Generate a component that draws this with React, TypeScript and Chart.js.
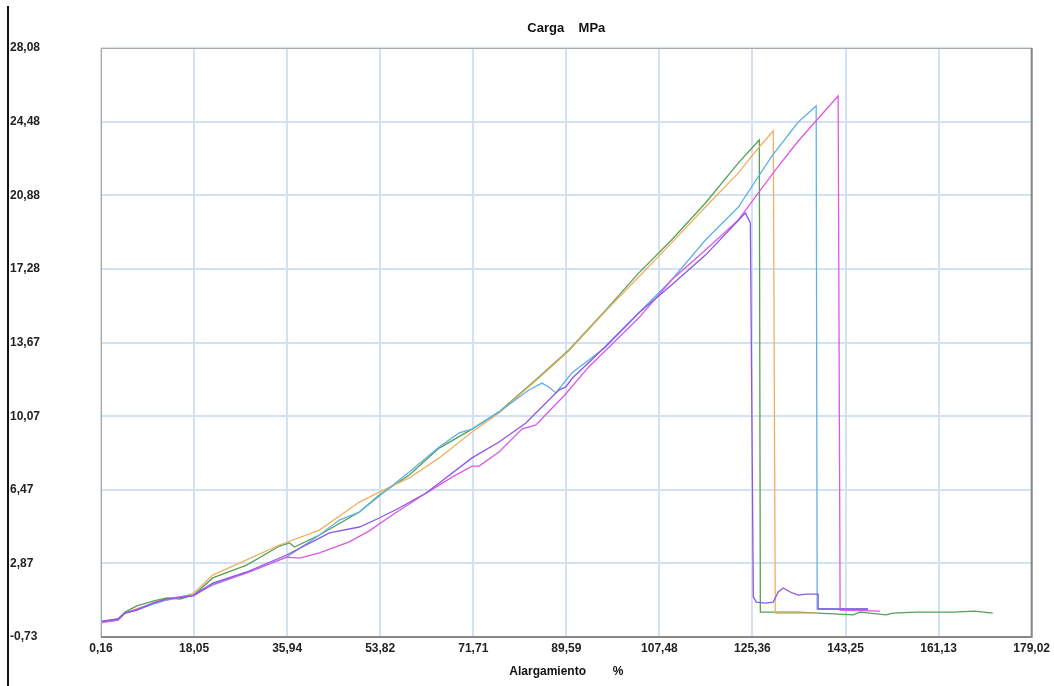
import React, { useEffect, useRef } from "react";
import { Chart, registerables } from "chart.js";

Chart.register(...registerables);

const chartTitle = "Carga    MPa";
const xAxisTitle = "Alargamiento        %";

const xTickValues = [0.16, 18.05, 35.94, 53.82, 71.71, 89.59, 107.48, 125.36, 143.25, 161.13, 179.02];
const xTickLabels = ["0,16", "18,05", "35,94", "53,82", "71,71", "89,59", "107,48", "125,36", "143,25", "161,13", "179,02"];
const yTickValues = [-0.73, 2.87, 6.47, 10.07, 13.67, 17.28, 20.88, 24.48, 28.08];
const yTickLabels = ["-0,73", "2,87", "6,47", "10,07", "13,67", "17,28", "20,88", "24,48", "28,08"];

// [alargamiento %, carga MPa]
const greenPts: [number, number][] = [
  [0.16, 0.0], [3.42, 0.15], [4.76, 0.49], [7.06, 0.79], [10.13, 1.03], [12.81, 1.18], [15.3, 1.13],
  [17.99, 1.32], [21.63, 2.16], [28.15, 2.79], [34.47, 3.72], [36.39, 3.87], [37.35, 3.67], [42.14, 4.26],
  [49.81, 5.38], [53.64, 6.22], [59.4, 7.19], [65.15, 8.51], [71.47, 9.44], [76.65, 10.28], [84.32, 11.99],
  [90.07, 13.31], [97.16, 15.26], [103.49, 17.07], [109.81, 18.69], [116.33, 20.5], [122.66, 22.46],
  [126.68, 23.58], [126.88, 0.49], [134.16, 0.49], [144.7, 0.35], [146.04, 0.49], [151.03, 0.35],
  [152.37, 0.44], [156.78, 0.49], [163.87, 0.49], [168.09, 0.54], [171.54, 0.44],
];

const orangePts: [number, number][] = [
  [0.16, -0.05], [3.42, 0.1], [4.76, 0.44], [7.06, 0.64], [10.13, 0.88], [12.81, 1.08], [15.3, 1.18],
  [17.99, 1.42], [21.63, 2.3], [28.15, 3.04], [34.47, 3.77], [42.14, 4.5], [49.81, 5.87], [53.64, 6.36],
  [59.4, 7.05], [65.15, 8.03], [71.47, 9.3], [76.65, 10.23], [84.32, 11.94], [90.07, 13.26], [97.16, 15.21],
  [103.49, 16.88], [109.81, 18.55], [116.33, 20.3], [122.66, 21.97], [126.49, 23.19], [129.36, 24.02],
  [129.75, 0.44], [137.99, 0.44],
];

const bluePts: [number, number][] = [
  [0.16, 0.0], [3.42, 0.1], [4.76, 0.44], [7.06, 0.59], [10.13, 0.88], [12.81, 1.08], [15.3, 1.23],
  [16.26, 1.28], [17.99, 1.32], [21.63, 1.81], [28.15, 2.4], [35.82, 3.18], [42.14, 4.26], [45.98, 4.99],
  [49.81, 5.38], [53.64, 6.17], [59.4, 7.34], [65.15, 8.56], [68.99, 9.25], [71.47, 9.44], [76.65, 10.28],
  [82.4, 11.35], [84.89, 11.69], [86.23, 11.5], [87.58, 11.21], [90.64, 12.18], [97.16, 13.45],
  [103.49, 15.12], [109.81, 16.73], [116.33, 18.69], [122.66, 20.3], [128.98, 22.75], [134.16, 24.46],
  [137.61, 25.24], [137.8, 0.64], [147.58, 0.64],
];

const purplePts: [number, number][] = [
  [0.16, 0.05], [3.42, 0.15], [4.76, 0.44], [7.06, 0.59], [10.13, 0.93], [12.81, 1.13], [15.3, 1.18],
  [17.99, 1.32], [21.63, 1.91], [28.15, 2.45], [35.82, 3.28], [42.14, 4.11], [44.06, 4.36], [49.81, 4.65],
  [53.64, 5.09], [57.48, 5.58], [62.65, 6.31], [71.47, 8.03], [76.65, 8.81], [81.82, 9.74], [88.15, 11.35],
  [89.49, 11.5], [90.64, 11.9], [96.4, 13.31], [103.49, 15.12], [109.81, 16.49], [116.33, 17.95],
  [124.0, 20.01], [124.96, 19.52], [125.53, 1.23], [126.11, 0.98], [127.83, 0.93], [129.36, 0.98],
  [130.32, 1.47], [131.28, 1.67], [132.62, 1.47], [134.16, 1.32], [135.69, 1.37], [137.99, 1.37],
  [137.99, 0.64], [147.58, 0.64],
];

const magentaPts: [number, number][] = [
  [0.16, 0.0], [3.42, 0.1], [4.76, 0.44], [7.06, 0.64], [10.13, 0.93], [12.81, 1.13], [15.3, 1.23],
  [17.99, 1.28], [21.63, 1.86], [28.15, 2.4], [35.82, 3.18], [38.31, 3.13], [42.14, 3.38], [47.89, 3.92],
  [51.73, 4.46], [56.14, 5.24], [62.65, 6.31], [67.64, 7.09], [71.47, 7.63], [72.81, 7.63], [76.65, 8.32],
  [81.06, 9.44], [83.74, 9.64], [89.11, 11.06], [93.9, 12.48], [103.49, 14.87], [109.81, 16.73],
  [116.33, 18.2], [122.66, 19.67], [129.75, 22.11], [134.16, 23.53], [141.83, 25.73], [142.21, 0.59],
  [149.88, 0.54],
];

const seriesList = [
  { name: "purple", color: "#8a58e8", pts: purplePts },
  { name: "magenta", color: "#e057e4", pts: magentaPts },
  { name: "blue", color: "#5fb2e4", pts: bluePts },
  { name: "orange", color: "#efb062", pts: orangePts },
  { name: "green", color: "#55a055", pts: greenPts },
];

const framePlugin = {
  id: "frame",
  afterDatasetsDraw(chart: any) {
    const { ctx, chartArea } = chart;
    const { left, right, top, bottom } = chartArea;
    ctx.save();
    ctx.strokeStyle = "#a8a8a8";
    ctx.lineWidth = 1;
    ctx.beginPath();
    ctx.moveTo(left + 0.5, bottom);
    ctx.lineTo(left + 0.5, top + 0.5);
    ctx.lineTo(right, top + 0.5);
    ctx.stroke();
    ctx.strokeStyle = "#888888";
    ctx.lineWidth = 2;
    ctx.beginPath();
    ctx.moveTo(left, bottom);
    ctx.lineTo(right, bottom);
    ctx.lineTo(right, top);
    ctx.stroke();
    ctx.restore();
  },
};

export default function App() {
  const canvasRef = useRef<HTMLCanvasElement | null>(null);

  useEffect(() => {
    if (!canvasRef.current) return;
    Chart.defaults.font.family = "'Liberation Sans', Arial, sans-serif";
    const chart = new Chart(canvasRef.current, {
      type: "scatter",
      data: {
        datasets: seriesList.map((s) => ({
          label: s.name,
          data: s.pts.map(([x, y]) => ({ x, y })),
          showLine: true,
          borderColor: s.color,
          backgroundColor: s.color,
          borderWidth: 1.3,
          pointRadius: 0,
          pointHoverRadius: 0,
          fill: false,
          tension: 0,
        })),
      },
      options: {
        animation: false,
        responsive: false,
        maintainAspectRatio: false,
        layout: { padding: { left: 10, right: 21, top: 0, bottom: 0 } },
        plugins: {
          legend: { display: false },
          tooltip: { enabled: false },
          title: {
            display: true,
            text: chartTitle,
            fullSize: false,
            color: "#111",
            font: { size: 13, weight: "bold", lineHeight: 1.2 },
            padding: { top: 20.2, bottom: 12.2 },
          },
        },
        scales: {
          x: {
            type: "linear",
            min: 0.16,
            max: 179.02,
            afterFit: (scale: any) => {
              scale.height = 49;
            },
            afterBuildTicks: (scale: any) => {
              scale.ticks = xTickValues.map((v) => ({ value: v }));
            },
            ticks: {
              autoSkip: false,
              maxRotation: 0,
              padding: 4,
              color: "#222",
              font: { size: 12, weight: "bold" },
              callback: (_v: any, i: number) => xTickLabels[i],
            },
            grid: { color: "#d2e2f2", lineWidth: 2, drawTicks: false },
            border: { display: false },
            title: {
              display: true,
              text: xAxisTitle,
              color: "#111",
              font: { size: 12, weight: "bold" },
              padding: { top: 0, bottom: 7 },
            },
          },
          y: {
            type: "linear",
            min: -0.73,
            max: 28.08,
            afterFit: (scale: any) => {
              scale.width = 91;
            },
            afterBuildTicks: (scale: any) => {
              scale.ticks = yTickValues.map((v) => ({ value: v }));
            },
            ticks: {
              autoSkip: false,
              crossAlign: "far",
              padding: 0,
              color: "#222",
              font: { size: 12, weight: "bold" },
              callback: (_v: any, i: number) => yTickLabels[i],
            },
            grid: { color: "#d2e2f2", lineWidth: 2, drawTicks: false },
            border: { display: false },
          },
        },
      },
      plugins: [framePlugin],
    } as any);
    return () => chart.destroy();
  }, []);

  return (
    <div style={{ position: "fixed", left: 0, top: 0, width: 1054, height: 686, background: "#fff" }}>
      <div style={{ position: "absolute", left: 7, top: 6, width: 2, height: 680, background: "#111" }} />
      <canvas ref={canvasRef} width={1054} height={686} style={{ position: "absolute", left: 0, top: 0, width: 1054, height: 686 }} />
    </div>
  );
}
